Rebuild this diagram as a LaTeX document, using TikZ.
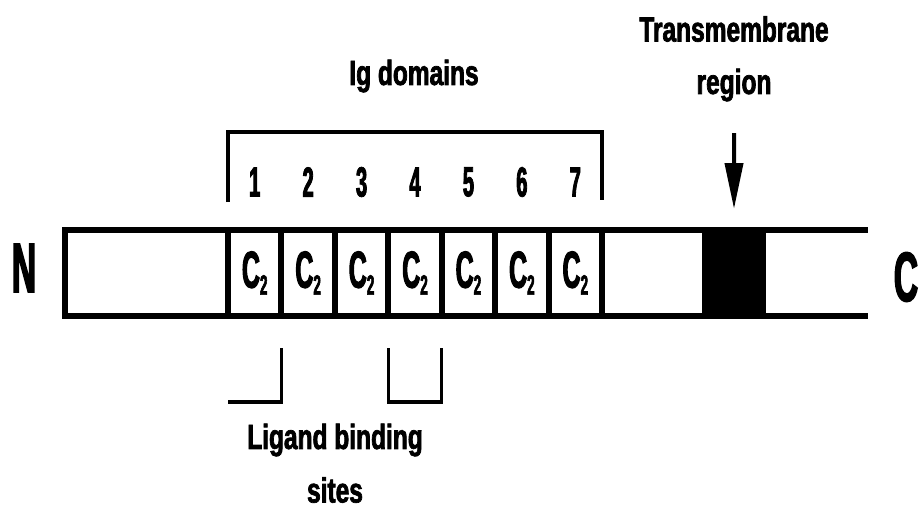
\documentclass[tikz,border=0pt]{standalone}
\usepackage{fontspec}
\usetikzlibrary{arrows.meta,positioning}
\newfontfamily\labfont[FakeStretch=0.7,FakeBold=2]{Liberation Sans}
\newfontfamily\narrowfont[FakeStretch=0.48,FakeBold=2]{Liberation Sans}

\tikzset{
  cell/.style={draw, line width=6pt, inner sep=0pt, outer sep=0pt,
               minimum height=86pt, fill=white},
  domcell/.style={cell, minimum width=53.43pt,
                  font=\narrowfont\bfseries\fontsize{52}{52}\selectfont},
  caption/.style={font=\labfont\bfseries\fontsize{35}{35}\selectfont, inner sep=0pt},
  endlabel/.style={font=\narrowfont\bfseries\fontsize{70}{70}\selectfont, inner sep=0pt},
  numlabel/.style={font=\narrowfont\bfseries\fontsize{42}{42}\selectfont, inner sep=0pt},
  bracketline/.style={line width=3.5pt},
  tmarrow/.style={line width=4pt, -{Triangle[length=46pt,width=18pt]}},
}
\newcommand{\ctwo}{C\raisebox{-7pt}{\fontsize{28}{28}\selectfont 2}}

\begin{document}
\begin{tikzpicture}[x=1pt,y=-1pt]
  \useasboundingbox (0,0) rectangle (920,519);

  % the chain, from N to C terminus
  \node[cell, anchor=north west, minimum width=163pt] (nterm) at (65,230) {};
  \node[domcell, anchor=north west] (d1) at (228,230) {\ctwo};
  \node[domcell, right=0pt of d1] (d2) {\ctwo};
  \node[domcell, right=0pt of d2] (d3) {\ctwo};
  \node[domcell, right=0pt of d3] (d4) {\ctwo};
  \node[domcell, right=0pt of d4] (d5) {\ctwo};
  \node[domcell, right=0pt of d5] (d6) {\ctwo};
  \node[domcell, right=0pt of d6] (d7) {\ctwo};
  \node[cell, right=0pt of d7, minimum width=103pt] (spacer) {};
  \node[cell, right=0pt of spacer, minimum width=58pt, fill=black] (tm) {};
  \node[inner sep=0pt, outer sep=0pt, minimum height=86pt, minimum width=105pt,
        right=0pt of tm] (cterm) {};
  \draw[line width=6pt] (tm.north east) -- (cterm.north east);
  \draw[line width=6pt] (tm.south east) -- (cterm.south east);

  % terminus labels
  \node[endlabel] (nlab) at (24,268) {N};
  \node[endlabel] (clab) at (906,277) {C};

  % Ig domain bracket and numbering
  \draw[bracketline] ([yshift=28pt]d1.north west) -- ([yshift=98pt]d1.north west)
      -| ([yshift=30pt]d7.north east);
  \foreach \i in {1,...,7}
    \node[numlabel] (n\i) at ([yshift=48pt]d\i.north) {\i};
  \node[caption] (iglab) at (414,76) {Ig domains};

  % transmembrane region
  \node[caption] (tmlab1) at (734,29) {Transmembrane};
  \node[caption] (tmlab2) at (734,85) {region};
  \coordinate (tmtop) at (734,133);
  \draw[tmarrow, shorten >=21pt] (tmtop) -- (tm.north);

  % ligand binding sites
  \draw[bracketline] ([yshift=-32pt]d1.south east) -- ([yshift=-86pt]d1.south east)
      -- ([yshift=-86pt]d1.south west);
  \draw[bracketline] ([yshift=-32pt]d4.south west) |- ([yshift=-86pt]d4.south east)
      -- ([yshift=-32pt]d4.south east);
  \node[caption] (liglab1) at (335,440) {Ligand binding};
  \node[caption] (liglab2) at (335,490) {sites};
\end{tikzpicture}
\end{document}
